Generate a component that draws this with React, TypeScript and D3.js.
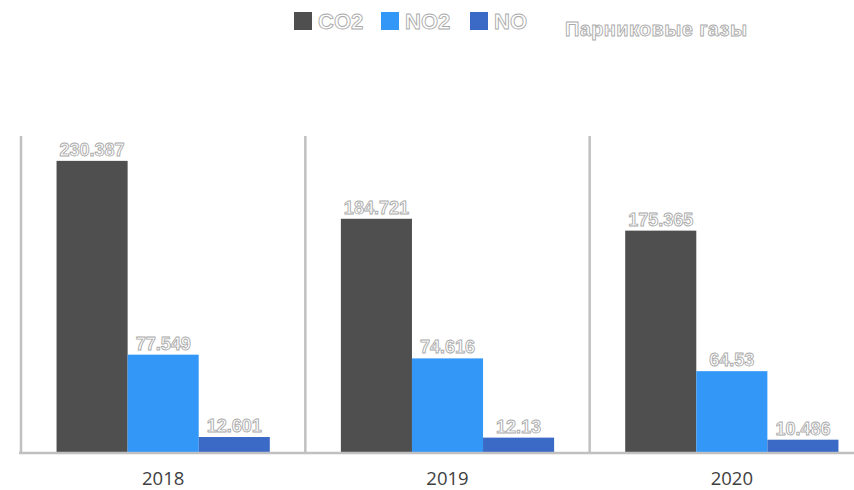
import { useEffect, useRef } from 'react'
import * as d3 from 'd3'

const years = ['2018', '2019', '2020']
const gases = ['CO2', 'NO2', 'NO']
const co2 = [230.387, 184.721, 175.365]
const no2 = [77.549, 74.616, 64.53]
const no = [12.601, 12.13, 10.486]
const gasColors = ['#4f4f4f', '#3397f7', '#3b69c6']
const chartTitle = 'Парниковые газы'

const App = () => {
  const svgRef = useRef<SVGSVGElement>(null)

  useEffect(() => {
    if (!svgRef.current) return
    const svg = d3.select(svgRef.current)
    svg.selectAll('*').remove()

    const width = 854
    const height = 490
    svg.attr('width', width).attr('height', height)

    const series = [co2, no2, no]
    const rows = years.map((year, i) => ({
      year,
      values: gases.map((gas, j) => ({ gas, value: series[j][i], color: gasColors[j] })),
    }))

    const x = d3.scaleBand().domain(years).range([21, 874]).padding(0)
    const xInner = d3.scaleBand().domain(gases).range([0, x.bandwidth()]).paddingInner(0).paddingOuter(0.5)
    const y = d3.scaleLinear().domain([0, 250]).range([453, 136])

    const lineColor = '#c0c0c0'
    const hollow = (sel: d3.Selection<any, any, any, any>) =>
      sel.attr('font-family', 'Liberation Sans, Arial, sans-serif')
        .attr('font-weight', 'bold')
        .attr('fill', '#ffffff')
        .attr('stroke', '#aaaaaa')
        .attr('stroke-width', 0.9)

    // separators between categories
    svg.append('g')
      .selectAll('line')
      .data(years)
      .join('line')
      .attr('x1', d => x(d) || 0)
      .attr('x2', d => x(d) || 0)
      .attr('y1', y(250))
      .attr('y2', y(0))
      .attr('stroke', lineColor)
      .attr('stroke-width', 2.5)

    const groups = svg.append('g')
      .selectAll('g')
      .data(rows)
      .join('g')
      .attr('transform', d => `translate(${x(d.year)},0)`)

    groups.selectAll('rect')
      .data(d => d.values)
      .join('rect')
      .attr('x', d => xInner(d.gas) || 0)
      .attr('y', d => y(d.value))
      .attr('width', xInner.bandwidth())
      .attr('height', d => y(0) - y(d.value))
      .attr('fill', d => d.color)

    groups.selectAll('text.value')
      .data(d => d.values)
      .join('text')
      .attr('class', 'value')
      .attr('x', d => (xInner(d.gas) || 0) + xInner.bandwidth() / 2)
      .attr('y', d => y(d.value) - 5)
      .attr('text-anchor', 'middle')
      .attr('font-size', 18)
      .call(hollow)
      .text(d => String(d.value))

    // baseline
    svg.append('line')
      .attr('x1', 19)
      .attr('x2', width)
      .attr('y1', y(0))
      .attr('y2', y(0))
      .attr('stroke', lineColor)
      .attr('stroke-width', 2.5)

    svg.append('g')
      .selectAll('text')
      .data(years)
      .join('text')
      .attr('x', d => (x(d) || 0) + x.bandwidth() / 2)
      .attr('y', 485)
      .attr('text-anchor', 'middle')
      .attr('font-family', 'Open Sans, sans-serif')
      .attr('font-size', 18.5)
      .attr('fill', '#404040')
      .text(d => d)

    // legend
    const legendX = [294, 381, 470]
    const legend = svg.append('g')
      .selectAll('g')
      .data(gases)
      .join('g')
      .attr('transform', (_, i) => `translate(${legendX[i]},12)`)

    legend.append('rect')
      .attr('width', 18)
      .attr('height', 18)
      .attr('fill', (_, i) => gasColors[i])

    legend.append('text')
      .attr('x', 24)
      .attr('y', 17)
      .attr('font-size', 22)
      .call(hollow)
      .text(d => d)

    svg.append('text')
      .attr('x', 565)
      .attr('y', 36)
      .attr('font-size', 20)
      .attr('textLength', 182)
      .call(hollow)
      .text(chartTitle)
  }, [])

  return (
    <div style={{ position: 'absolute', left: 0, top: 0 }}>
      <svg ref={svgRef} style={{ display: 'block' }} />
    </div>
  )
}

export default App
